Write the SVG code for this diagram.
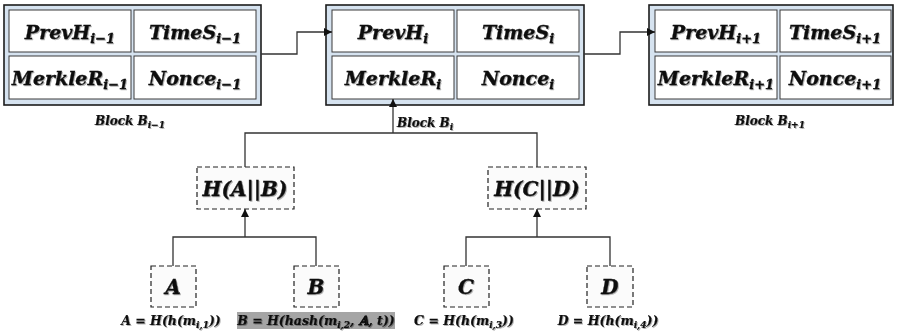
<svg xmlns="http://www.w3.org/2000/svg" width="907" height="333" viewBox="0 0 907 333">
<defs>
  <style>
    .outer { fill: #d6e3f0; stroke: #1c1c1c; stroke-width: 1.6; }
    .cell { fill: #ffffff; stroke: #3a3a3a; stroke-width: 1; }
    .dash { fill: #fbfbfb; stroke: #222222; stroke-width: 1.2; stroke-dasharray: 5 3; }
    .t { font-family: "DejaVu Serif", "Liberation Serif", serif; font-weight: bold; font-style: italic; fill: #111; stroke: #111; stroke-width: 0.35; text-anchor: middle; filter: url(#sh); }
    .big { font-size: 19px; }
    .mid { font-size: 20px; }
    .lab { font-size: 12px; stroke-width: 0.2; }
    .eq { font-size: 12.5px; stroke-width: 0.2; }
    .sub { font-size: 13px; }
    .subs { font-size: 9px; }
    .conn { fill: none; stroke: #333333; stroke-width: 1.3; }
  </style>
  <marker id="ah" markerWidth="8" markerHeight="8" refX="8" refY="4" orient="auto" markerUnits="userSpaceOnUse">
    <path d="M0,0 L8,4 L0,8 Z" fill="#111"/>
  </marker>
  <filter id="sh" x="-10%" y="-20%" width="130%" height="150%">
    <feDropShadow dx="1" dy="1" stdDeviation="0.6" flood-color="#000" flood-opacity="0.3"/>
  </filter>
</defs>

<g id="block-prev">
  <rect class="outer" x="4" y="5" width="257" height="100"/>
  <rect class="cell" x="9" y="10" width="122" height="42"/>
  <rect class="cell" x="134" y="10" width="122" height="42"/>
  <rect class="cell" x="9" y="56" width="122" height="43"/>
  <rect class="cell" x="134" y="56" width="122" height="43"/>
  <text class="t big" x="70" y="39">PrevH<tspan class="sub" dy="4">i−1</tspan></text>
  <text class="t big" x="195" y="39">TimeS<tspan class="sub" dy="4">i−1</tspan></text>
  <text class="t big" x="70" y="85">MerkleR<tspan class="sub" dy="4">i−1</tspan></text>
  <text class="t big" x="195" y="85">Nonce<tspan class="sub" dy="4">i−1</tspan></text>
  <text class="t lab" x="130" y="125">Block B<tspan class="subs" dy="3">i−1</tspan></text>
</g>

<g id="block-cur">
  <rect class="outer" x="326" y="5" width="258" height="100"/>
  <rect class="cell" x="332" y="10" width="122" height="42"/>
  <rect class="cell" x="457" y="10" width="122" height="42"/>
  <rect class="cell" x="332" y="56" width="122" height="43"/>
  <rect class="cell" x="457" y="56" width="122" height="43"/>
  <text class="t big" x="393" y="39">PrevH<tspan class="sub" dy="4">i</tspan></text>
  <text class="t big" x="518" y="39">TimeS<tspan class="sub" dy="4">i</tspan></text>
  <text class="t big" x="393" y="85">MerkleR<tspan class="sub" dy="4">i</tspan></text>
  <text class="t big" x="518" y="85">Nonce<tspan class="sub" dy="4">i</tspan></text>
  <text class="t lab" x="397" y="127" style="text-anchor:start">Block B<tspan class="subs" dy="3">i</tspan></text>
</g>

<g id="block-next">
  <rect class="outer" x="649" y="5" width="244" height="100"/>
  <rect class="cell" x="655" y="10" width="122" height="42"/>
  <rect class="cell" x="780" y="10" width="111" height="42"/>
  <rect class="cell" x="655" y="56" width="122" height="43"/>
  <rect class="cell" x="780" y="56" width="111" height="43"/>
  <text class="t big" x="716" y="39">PrevH<tspan class="sub" dy="4">i+1</tspan></text>
  <text class="t big" x="835" y="39">TimeS<tspan class="sub" dy="4">i+1</tspan></text>
  <text class="t big" x="716" y="85">MerkleR<tspan class="sub" dy="4">i+1</tspan></text>
  <text class="t big" x="835" y="85">Nonce<tspan class="sub" dy="4">i+1</tspan></text>
  <text class="t lab" x="770" y="125">Block B<tspan class="subs" dy="3">i+1</tspan></text>
</g>

<g id="node-hab">
  <rect class="dash" x="197" y="167" width="97" height="42"/>
  <text class="t mid" x="245" y="196">H(A||B)</text>
</g>
<g id="node-hcd">
  <rect class="dash" x="488" y="167" width="98" height="42"/>
  <text class="t mid" x="537" y="196">H(C||D)</text>
</g>

<g id="node-a">
  <rect class="dash" x="151" y="266" width="45" height="41"/>
  <text class="t mid" x="173" y="294">A</text>
  <text class="t eq" x="171" y="325">A = H(h(m<tspan class="subs" dy="2.5">i,1</tspan><tspan dy="-2.5">))</tspan></text>
</g>
<g id="node-b">
  <rect class="dash" x="294" y="266" width="45" height="41"/>
  <text class="t mid" x="316" y="294">B</text>
  <rect x="237" y="312" width="158" height="17" fill="#a5a5a5"/>
  <text class="t eq" x="316" y="325">B = H(hash(m<tspan class="subs" dy="2.5">i,2</tspan><tspan dy="-2.5">, 𝔸, t))</tspan></text>
</g>
<g id="node-c">
  <rect class="dash" x="444" y="266" width="45" height="41"/>
  <text class="t mid" x="466" y="294">C</text>
  <text class="t eq" x="464" y="325">C = H(h(m<tspan class="subs" dy="2.5">i,3</tspan><tspan dy="-2.5">))</tspan></text>
</g>
<g id="node-d">
  <rect class="dash" x="587" y="266" width="46" height="41"/>
  <text class="t mid" x="610" y="294">D</text>
  <text class="t eq" x="608" y="325">D = H(h(m<tspan class="subs" dy="2.5">i,4</tspan><tspan dy="-2.5">))</tspan></text>
</g>

<g id="connectors">
  <path class="conn" d="M261,54 H297 V32 H332" marker-end="url(#ah)"/>
  <path class="conn" d="M584,54 H620 V32 H655" marker-end="url(#ah)"/>
  <path class="conn" d="M393,133 V99" marker-end="url(#ah)"/>
  <path class="conn" d="M245,167 V133 H537 V167"/>
  <path class="conn" d="M245,237 V209" marker-end="url(#ah)"/>
  <path class="conn" d="M173,266 V237 H316 V266"/>
  <path class="conn" d="M537,237 V209" marker-end="url(#ah)"/>
  <path class="conn" d="M466,266 V237 H610 V266"/>
</g>
</svg>
